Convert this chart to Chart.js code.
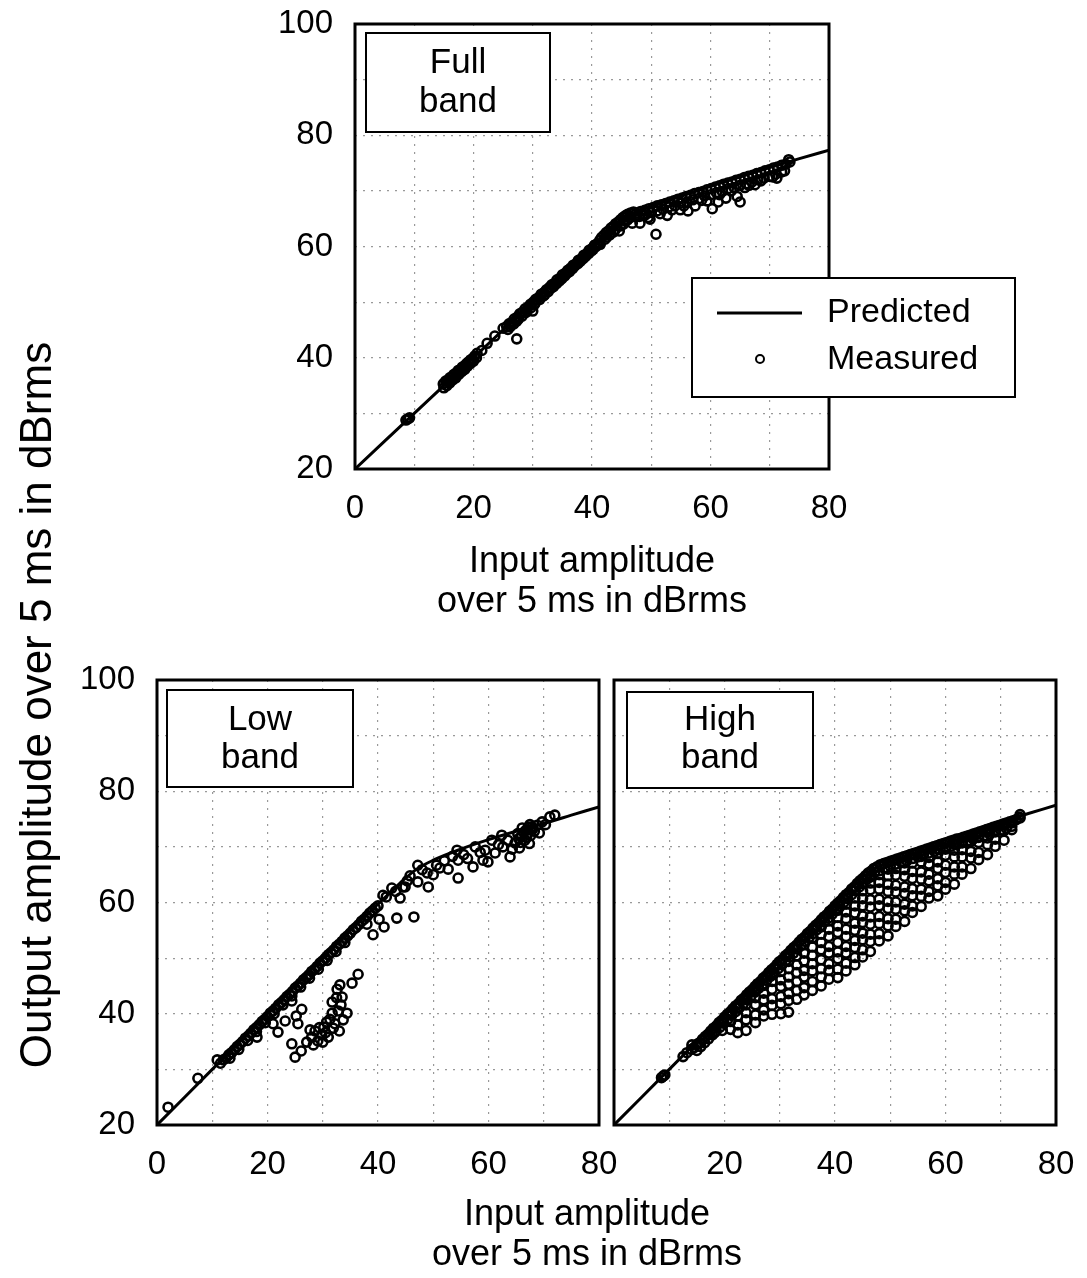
<!DOCTYPE html>
<html>
<head>
<meta charset="utf-8">
<script src="https://cdn.jsdelivr.net/npm/chart.js@4.4.1/dist/chart.umd.min.js"></script>
<style>
  body { margin: 0; background: #fff; width: 1087px; height: 1278px; position: relative; overflow: hidden;
         font-family: "Liberation Sans", Arial, sans-serif; color: #000; }
  canvas { position: absolute; }
  #fullChart { left: 0; top: 0; }
  #lowChart { left: 0; top: 640px; }
  #highChart { left: 600px; top: 640px; }
  #yTitle { position: absolute; left: -364px; top: 680px; width: 800px; height: 50px; line-height: 50px;
            text-align: center; font-size: 44px; transform: rotate(-90deg); white-space: nowrap; }
  #xTitleBottom { position: absolute; left: 287px; top: 1193px; width: 600px; text-align: center;
                  font-size: 36px; line-height: 40px; }
</style>
</head>
<body>
<canvas id="fullChart" width="1087" height="640"></canvas>
<canvas id="lowChart" width="630" height="560"></canvas>
<canvas id="highChart" width="487" height="560"></canvas>
<div id="yTitle">Output amplitude over 5 ms in dBrms</div>
<div id="xTitleBottom">Input amplitude<br>over 5 ms in dBrms</div>
<script>
// axis limits / ticks
const xRange = [0, 80];
const yRange = [20, 100];
const gridStep = 10;
const labelStep = 20;
const xTitle = ["Input amplitude", "over 5 ms in dBrms"];
const seriesNames = ["Predicted", "Measured"];

// predicted input/output curves (x, y)
const fullPredicted = [[0,20],[10,30],[20,40],[30,50],[40,60],[43,63],[45,64.8],[47,66],[50,67.2],[55,69],[60,70.8],[65,72.5],[70,74.2],[75,75.8],[80,77.3]];
const lowPredicted = [[0,20],[10,30],[20,40],[30,50],[35,55],[40,59.7],[44,63.5],[47,66],[50,67.6],[55,69.6],[60,71.3],[65,72.8],[70,74.2],[75,75.7],[80,77.2]];
const highPredicted = [[0,20],[10,30],[20,40],[30,50],[40,60],[44,64],[46,66],[48,67.2],[50,68],[55,69.7],[60,71.3],[65,72.9],[70,74.5],[75,76],[80,77.5]];

// measured points, full band
const fullMeasured = [
  [8.6,28.8],[8.9,29.0],[9.2,29.2],
  [14.9,35.3],[15.3,35.8],[15.6,35.9],[16.0,36.4],[16.3,36.5],[16.7,37.0],[17.0,37.2],[17.4,37.7],[17.7,37.8],[18.1,38.3],
  [18.4,38.5],[18.8,38.9],[19.1,39.2],[19.5,39.6],[19.8,39.8],[20.2,40.3],[20.6,40.8],
  [15.9,35.7],[17.2,36.9],[18.5,38.0],[19.6,39.2],
  [15.0,34.6],[15.5,35.0],[16.0,35.5],[16.5,36.0],[17.0,36.4],[17.5,37.0],[18.0,37.5],[18.5,37.9],[19.0,38.5],[19.5,39.0],
  [20.0,39.4],[20.5,40.0],
  [21.4,41.3],[22.3,42.6],[23.6,43.9],[25.0,45.3],
  [25.6,45.6],[26.0,46.1],[26.5,46.4],[26.9,47.0],[27.4,47.3],[27.8,47.9],[28.3,48.2],[28.7,48.8],[29.2,49.1],[29.6,49.6],
  [30.1,50.0],[30.5,50.5],[31.0,50.8],[31.4,51.4],[31.9,51.7],[32.3,52.2],[32.8,52.6],[33.2,53.1],[33.7,53.4],[34.1,54.0],
  [34.6,54.3],[35.0,54.9],[35.5,55.2],[35.9,55.7],[36.4,56.1],[36.8,56.6],[37.3,56.9],[37.7,57.5],[38.2,57.8],[38.6,58.4],
  [39.1,58.7],[39.5,59.3],[40.0,59.6],[40.4,60.2],[40.9,60.5],[41.3,61.1],
  [26.2,45.6],[27.6,47.0],[29.0,48.4],[30.4,49.8],[31.8,51.1],[33.1,52.5],[34.5,53.8],[35.8,55.2],[37.1,56.5],[38.5,57.8],[39.9,59.2],
  [25.8,45.1],[26.8,46.1],[27.3,46.6],[28.2,47.5],[28.8,48.1],[29.7,49.0],[30.3,49.6],[31.2,50.5],[32.0,51.3],[32.6,51.9],
  [33.5,52.8],[34.0,53.3],[34.9,54.2],[35.4,54.7],[36.2,55.5],[36.7,56.0],[37.6,56.9],[38.0,57.3],[38.9,58.2],[39.4,58.7],
  [40.2,59.5],[40.7,60.0],[41.1,60.4],
  [27.3,43.4],[30.0,48.4],
  [41.6,61.6],[42.0,62.0],[42.4,62.5],[42.8,62.8],[43.2,63.3],[43.6,63.6],[44.0,64.1],[44.4,64.4],[44.8,64.8],[45.2,65.2],
  [45.6,65.5],[46.0,65.8],[46.5,66.0],[47.0,66.2],
  [42.2,61.3],[43.0,62.1],[43.9,63.0],[44.8,63.7],[45.6,64.6],[46.4,65.2],
  [41.4,60.4],[42.5,61.7],[43.6,62.6],[44.6,62.8],[45.3,64.0],[46.0,64.8],[46.8,64.2],[47.4,65.3],[48.1,64.2],[48.6,65.6],
  [47.5,66.0],[48.2,66.3],[48.9,66.5],[49.6,66.8],[50.3,67.0],[51.0,67.3],[51.7,67.5],[52.4,67.7],[53.1,68.0],[53.8,68.2],
  [54.5,68.5],[55.2,68.7],[55.9,69.0],[56.6,69.2],[57.3,69.5],[58.0,69.7],[58.7,69.9],[59.4,70.2],[60.1,70.4],[60.8,70.7],
  [61.5,70.9],[62.2,71.2],[62.9,71.4],[63.6,71.6],[64.3,71.9],[65.0,72.1],[65.7,72.4],[66.4,72.6],[67.1,72.8],[67.8,73.1],
  [68.5,73.3],[69.2,73.6],[69.9,73.8],[70.6,74.1],[71.3,74.3],[72.0,74.6],[72.7,74.8],[73.4,75.2],
  [48.0,65.4],[49.0,65.7],[50.0,66.1],[51.0,66.4],[52.0,66.7],[53.0,67.1],[54.0,67.3],[55.0,67.8],[56.0,68.0],[57.0,68.4],
  [58.0,68.6],[59.0,69.1],[60.0,69.3],[61.0,69.7],[62.0,69.9],[63.0,70.4],[64.0,70.6],[65.0,71.0],[66.0,71.3],[67.0,71.6],
  [68.0,72.0],[69.0,72.3],[70.0,72.6],[71.0,73.0],[72.0,73.4],
  [49.5,65.2],[51.5,65.9],[53.5,66.6],[55.5,67.3],[58.5,68.3],[61.5,69.3],[63.5,70.0],[66.5,71.0],[68.5,71.8],[70.5,72.5],[72.5,73.6],
  [49.8,64.9],[50.8,62.2],[52.7,65.6],[54.9,66.6],[56.2,66.4],[57.4,67.3],[59.4,68.2],[60.3,66.8],[61.3,68.0],[62.6,68.7],
  [64.5,69.0],[65.0,68.0],[65.8,70.6],[67.5,71.1],[71.2,72.3],[73.2,75.6]
];

// measured points, low band
const lowMeasured = [
  [2.0,23.2],[7.4,28.4],[10.9,31.7],
  [11.5,31.1],[12.0,31.7],[12.5,32.0],[13.0,32.6],[13.5,33.0],[14.0,33.5],[14.5,34.1],[15.0,34.5],[15.5,35.0],[16.0,35.6],
  [16.5,36.0],[17.0,36.5],[17.5,37.1],[18.0,37.5],[18.5,38.0],[19.0,38.6],[19.5,39.0],[20.0,39.5],[20.5,40.1],[21.0,40.5],
  [21.5,41.0],[22.0,41.6],[22.5,42.0],[23.0,42.5],[23.5,43.1],[24.0,43.5],[24.5,44.0],[25.0,44.6],[25.5,45.0],[26.0,45.5],
  [26.5,46.1],[27.0,46.5],[27.5,47.0],[28.0,47.6],[28.5,48.0],[29.0,48.5],[29.5,49.1],[30.0,49.5],[30.5,50.0],[31.0,50.6],
  [31.5,51.0],[32.0,51.5],[32.5,52.1],[33.0,52.5],[33.5,53.0],[34.0,53.6],[34.5,54.0],[35.0,54.5],[35.5,55.1],[36.0,55.5],
  [36.5,56.0],[37.0,56.6],[37.5,57.0],[38.0,57.5],[38.5,58.1],[39.0,58.5],
  [13.2,32.0],[14.8,33.6],[16.4,35.2],[18.0,36.8],[19.6,38.4],[21.2,40.0],[22.8,41.6],[24.4,43.2],[26.0,44.8],[27.6,46.4],
  [29.2,48.0],[30.8,49.6],[32.4,51.2],[34.0,52.8],
  [18.1,35.8],[21.0,38.2],[21.9,36.7],[23.2,38.7],[24.4,42.3],[25.2,39.6],[25.5,38.2],[26.2,40.8],[24.4,34.6],[25.0,32.2],
  [26.1,33.3],[27.1,34.9],[27.7,37.1],[28.6,36.9],[29.1,35.1],[29.8,36.2],[30.2,37.6],[30.7,38.5],[31.0,35.8],[31.7,40.1],
  [31.9,37.4],[31.7,42.1],[32.6,44.4],[33.1,45.2],[33.5,43.0],[33.3,41.6],[33.7,38.9],[34.4,40.1],[35.3,45.5],[36.4,47.1],
  [28.0,35.8],[29.4,37.5],[30.5,36.6],[31.3,39.0],[32.2,38.2],[32.8,40.5],[33.0,36.9],[30.0,34.9],[28.3,34.4],[32.5,42.9],
  [39.1,54.2],[40.2,57.0],[41.1,55.6],[43.4,57.2],[46.5,57.4],[38.0,56.1],
  [39.5,59.0],[40.0,59.4],[40.9,61.3],[41.5,61.0],[42.5,62.6],[43.2,62.0],[44.0,60.8],[44.5,62.8],[44.9,62.8],[45.3,63.9],[45.8,64.8],
  [47.2,63.7],[47.2,66.7],[48.0,65.9],[48.9,65.3],[49.1,62.8],[50.0,65.0],[50.6,66.7],[51.2,66.2],[52.0,67.5],[52.7,66.0],
  [53.5,68.3],[54.3,69.4],[54.5,64.4],[54.5,67.6],[55.5,68.6],[56.2,67.9],[57.2,66.4],[57.6,70.0],[58.5,69.0],[59.0,67.6],
  [59.4,69.4],[59.9,67.3],[60.6,71.2],[61.2,68.9],[61.8,70.4],[62.4,72.1],[62.6,70.0],[63.5,71.2],[63.9,68.2],[64.3,69.6],
  [64.8,70.7],[65.3,72.4],[65.6,69.8],[66.1,73.4],[66.6,71.2],[67.0,72.3],[67.4,70.6],[67.9,73.6],[68.3,72.8],[68.8,73.9],
  [69.2,72.5],[69.7,74.5],[70.3,74.0],[71.1,75.4],[72.0,75.7],
  [65.5,71.5],[66.0,72.0],[66.4,72.6],[66.8,73.0],[67.2,73.5],[67.6,72.0],[68.0,73.2],[65.8,70.8],[66.9,71.7],[67.5,74.0]
];

// measured points, high band: points along the predicted curve
const highMeasuredEdge = [
  [8.6,28.5],[8.9,28.8],[9.2,29.0],[12.5,32.3],[13.2,33.0],[14.1,34.4],
  [14.0,33.6],[14.5,33.9],[15.0,34.5],[15.5,34.8],[16.0,35.4],[16.5,35.9],[17.0,36.3],[17.5,36.9],[18.0,37.4],[18.5,37.8],
  [19.0,38.4],[19.5,38.8],[20.0,39.4],[20.5,39.9],[21.0,40.3],[21.5,40.9],[22.0,41.4],[22.5,41.8],[23.0,42.4],[23.5,42.8],
  [24.0,43.4],[24.5,43.9],[25.0,44.3],[25.5,44.9],[26.0,45.4],[26.5,45.8],[27.0,46.4],[27.5,46.8],[28.0,47.4],[28.5,47.9],
  [29.0,48.3],[29.5,48.9],[30.0,49.4],[30.5,49.8],[31.0,50.4],[31.5,50.8],[32.0,51.4],[32.5,51.9],[33.0,52.3],[33.5,52.9],
  [34.0,53.4],[34.5,53.8],[35.0,54.4],[35.5,54.8],[36.0,55.4],[36.5,55.9],[37.0,56.3],[37.5,56.9],[38.0,57.4],[38.5,57.8],
  [39.0,58.4],[39.5,58.8],[40.0,59.4],[40.5,59.9],[41.0,60.3],[41.5,60.9],[42.0,61.4],[42.5,61.8],[43.0,62.4],[43.5,62.8],
  [44.0,63.4],[44.5,63.9],[45.0,64.3],[45.5,64.8],[46.0,65.3],[46.5,65.6],
  [15.0,33.4],[15.7,34.1],[16.4,34.8],[17.1,35.5],[17.8,36.2],[18.5,36.9],[19.2,37.6],[19.9,38.3],[20.6,39.0],[21.3,39.7],
  [22.0,40.4],[22.7,41.1],[23.4,41.8],[24.1,42.5],[24.8,43.2],[25.5,43.9],[26.2,44.6],[26.9,45.3],[27.6,46.0],[28.3,46.7],
  [29.0,47.4],[29.7,48.1],[30.4,48.8],[31.1,49.5],[31.8,50.2],[32.5,50.9],[33.2,51.6],[33.9,52.3],[34.6,53.0],[35.3,53.7],
  [36.0,54.4],[36.7,55.1],[37.4,55.8],[38.1,56.5],[38.8,57.2],[39.5,57.9],[40.2,58.6],[40.9,59.3],[41.6,60.0],[42.3,60.7],
  [43.0,61.4],[43.7,62.1],[44.4,62.8],[45.1,63.5],[45.8,64.2],[46.5,64.8],[47.2,65.4],
  [47.0,66.1],[47.6,66.4],[48.2,66.8],[48.8,67.0],[49.4,67.2],[50.0,67.4],[50.6,67.6],[51.2,67.8],[51.8,68.0],[52.4,68.2],
  [53.0,68.4],[53.6,68.6],[54.2,68.8],[54.8,69.0],[55.4,69.2],[56.0,69.4],[56.6,69.6],[57.2,69.8],[57.8,70.0],[58.4,70.2],
  [59.0,70.4],[59.6,70.6],[60.2,70.8],[60.8,71.0],[61.4,71.2],[62.0,71.4],[62.6,71.5],[63.2,71.7],[63.8,71.9],[64.4,72.1],
  [65.0,72.3],[65.6,72.5],[66.2,72.7],[66.8,72.9],[67.4,73.1],[68.0,73.3],[68.6,73.5],[69.2,73.7],[69.8,73.9],[70.4,74.1],
  [71.0,74.3],[71.6,74.5],[72.2,74.7],[72.8,74.9],[73.4,75.3],
  [48.0,65.7],[49.0,66.1],[50.0,66.5],[51.0,66.9],[52.0,67.2],[53.0,67.5],[54.0,67.9],[55.0,68.2],[56.0,68.5],[57.0,68.9],
  [58.0,69.2],[59.0,69.5],[60.0,69.8],[61.0,70.1],[62.0,70.4],[63.0,70.7],[64.0,71.0],[65.0,71.4],[66.0,71.7],[67.0,72.0],
  [68.0,72.3],[69.0,72.7],[70.0,73.0],[71.0,73.3],[72.0,73.7]
];

// measured points, high band: the spread below the curve, as [x, [y values]]
const highMeasuredSpread = [
  [18.2,[36.6]],
  [19.6,[37.0,38.4]],
  [21.1,[37.2,38.6,39.9]],
  [22.4,[36.6,38.0,39.6,41.0]],
  [23.9,[37.0,38.9,40.2,41.6,42.8]],
  [25.6,[38.4,39.8,41.6,42.9,44.2]],
  [27.1,[39.6,40.7,42.5,43.7,45.1]],
  [28.6,[39.9,41.5,42.7,44.4,45.8,47.0]],
  [30.2,[40.0,41.8,43.1,44.9,46.1,47.6]],
  [31.6,[40.3,42.4,43.6,45.3,46.6,48.1,49.4]],
  [33.1,[42.6,44.2,45.8,47.4,48.8,50.4]],
  [34.4,[43.4,44.7,46.6,47.8,49.5,50.9,52.4]],
  [35.9,[44.2,45.8,47.7,49.0,50.5,52.0,53.6]],
  [37.5,[45.0,46.6,48.1,49.7,51.5,52.8,54.3,55.6]],
  [38.9,[46.2,47.8,49.0,50.9,52.1,53.9,55.2,56.7]],
  [40.5,[46.5,48.0,49.9,51.1,52.8,54.6,55.8,57.3,58.6]],
  [42.0,[47.7,49.1,50.9,52.1,53.9,55.2,57.1,58.3,59.7]],
  [43.6,[48.8,50.1,51.9,53.2,55.0,56.3,58.1,59.4,60.8]],
  [45.0,[50.2,51.5,53.3,54.5,56.4,57.6,59.4,60.7,62.1,63.4]],
  [46.4,[51.2,53.0,54.3,56.1,57.4,59.2,60.5,62.3,63.5,64.6]],
  [48.0,[53.1,54.4,56.2,57.5,59.4,60.6,62.4,63.6,65.0]],
  [49.6,[54.0,55.8,57.1,58.9,60.2,62.0,63.3,64.8,66.0]],
  [51.0,[55.7,57.0,58.8,60.1,61.9,63.1,64.9,66.1]],
  [52.6,[56.6,58.5,59.7,61.6,62.8,64.7,65.9,67.1]],
  [54.0,[58.2,59.4,61.2,62.5,64.3,65.6,67.1]],
  [55.6,[59.3,61.1,62.4,64.2,65.5,67.3,68.3]],
  [57.0,[60.8,62.0,63.9,65.1,66.9,68.1]],
  [58.6,[61.2,63.0,64.3,66.1,67.3,68.8,69.6]],
  [60.0,[62.4,63.6,65.4,66.7,68.5,69.6]],
  [61.6,[63.3,65.1,66.4,68.2,69.4,70.5]],
  [63.0,[65.1,66.4,68.2,69.5,70.8]],
  [64.6,[66.1,68.0,69.2,71.0,71.8]],
  [66.0,[67.7,69.0,70.8,71.9]],
  [67.6,[68.6,70.4,71.6,72.7]],
  [69.0,[70.1,71.4,72.9]],
  [70.6,[71.2,72.9,73.9]],
  [72.0,[73.1,74.3]],
  [73.5,[75.2,75.8]]
];

const highMeasured = highMeasuredEdge.concat(
  highMeasuredSpread.flatMap(([x, ys]) => ys.map(y => [x, y]))
);

const FONT = "Liberation Sans";
const toXY = pts => pts.map(([x, y]) => ({ x, y }));

const framePlugin = {
  id: "frame",
  afterDatasetsDraw(chart) {
    const { ctx, chartArea: a } = chart;
    ctx.save();
    ctx.strokeStyle = "#000";
    ctx.lineWidth = 3;
    ctx.strokeRect(a.left, a.top, a.right - a.left, a.bottom - a.top);
    ctx.restore();
  }
};

const bandBoxPlugin = {
  id: "bandBox",
  afterDraw(chart, args, opts) {
    if (!opts.lines) return;
    const ctx = chart.ctx;
    const [x1, y1, x2, y2] = opts.rect;
    ctx.save();
    ctx.fillStyle = "#fff";
    ctx.fillRect(x1, y1, x2 - x1, y2 - y1);
    ctx.strokeStyle = "#000";
    ctx.lineWidth = 2;
    ctx.strokeRect(x1, y1, x2 - x1, y2 - y1);
    ctx.fillStyle = "#000";
    ctx.font = "35px '" + FONT + "'";
    ctx.textAlign = "center";
    ctx.textBaseline = "middle";
    opts.lines.forEach((t, i) => ctx.fillText(t, (x1 + x2) / 2, opts.lineY[i]));
    ctx.restore();
  }
};

const keyPlugin = {
  id: "keyBox",
  afterDraw(chart, args, opts) {
    if (!opts.rect) return;
    const ctx = chart.ctx;
    const [x1, y1, x2, y2] = opts.rect;
    const names = chart.data.datasets.map(d => d.label);
    ctx.save();
    ctx.fillStyle = "#fff";
    ctx.fillRect(x1, y1, x2 - x1, y2 - y1);
    ctx.strokeStyle = "#000";
    ctx.lineWidth = 2;
    ctx.strokeRect(x1, y1, x2 - x1, y2 - y1);
    ctx.lineWidth = 3;
    ctx.beginPath();
    ctx.moveTo(x1 + 25, y1 + 35);
    ctx.lineTo(x1 + 110, y1 + 35);
    ctx.stroke();
    ctx.lineWidth = 2;
    ctx.beginPath();
    ctx.arc(x1 + 68, y1 + 81, 4, 0, Math.PI * 2);
    ctx.stroke();
    ctx.fillStyle = "#000";
    ctx.font = "34px '" + FONT + "'";
    ctx.textBaseline = "middle";
    ctx.fillText(names[0], x1 + 135, y1 + 35);
    ctx.fillText(names[1], x1 + 135, y1 + 82);
    ctx.restore();
  }
};

function makePanel(id, predicted, measured, cfg) {
  const tickFont = { family: FONT, size: 33 };
  // tick marks are invisible; their length only spaces the labels from the frame
  const gridStyle = len => ({ color: "#999", lineWidth: 1.2, drawTicks: true, tickLength: len, tickColor: "rgba(0,0,0,0)" });
  return new Chart(document.getElementById(id), {
    type: "scatter",
    data: {
      datasets: [
        {
          label: seriesNames[0],
          data: toXY(predicted),
          showLine: true,
          borderColor: "#000",
          borderWidth: 3,
          pointRadius: 0,
          cubicInterpolationMode: "monotone",
          order: 0
        },
        {
          label: seriesNames[1],
          data: toXY(measured),
          showLine: false,
          pointRadius: 4.5,
          pointBorderWidth: 2.6,
          pointBorderColor: "#000",
          pointBackgroundColor: "rgba(0,0,0,0)",
          order: 1
        }
      ]
    },
    options: {
      responsive: false,
      animation: false,
      events: [],
      layout: { padding: cfg.padding },
      plugins: {
        legend: { display: false },
        tooltip: { enabled: false },
        bandBox: cfg.box,
        keyBox: cfg.key || {}
      },
      scales: {
        x: {
          type: "linear",
          min: xRange[0],
          max: xRange[1],
          border: { display: false, dash: [2, 6] },
          grid: gridStyle(20),
          ticks: {
            stepSize: gridStep,
            autoSkip: false,
            maxRotation: 0,
            padding: 0,
            color: "#000",
            font: tickFont,
            callback: v => (v % labelStep === 0 && !(cfg.hideZero && v === 0)) ? v : ""
          },
          title: {
            display: !!cfg.xTitle,
            text: cfg.xTitle || "",
            color: "#000",
            font: { family: FONT, size: 36, lineHeight: 40 / 36 },
            padding: { top: 0, bottom: 18 }
          },
          afterFit: s => { s.height = cfg.xHeight; }
        },
        y: {
          type: "linear",
          min: yRange[0],
          max: yRange[1],
          border: { display: false, dash: [2, 6] },
          grid: gridStyle(22),
          ticks: {
            display: cfg.yTicks,
            stepSize: gridStep,
            autoSkip: false,
            padding: 0,
            color: "#000",
            font: tickFont,
            callback: v => v % labelStep === 0 ? v : ""
          },
          afterFit: s => { s.width = cfg.yWidth; }
        }
      }
    },
    plugins: [framePlugin, bandBoxPlugin, keyPlugin]
  });
}

makePanel("fullChart", fullPredicted, fullMeasured, {
  padding: { left: 255, right: 258, top: 24, bottom: 0 },
  yWidth: 100, xHeight: 171, yTicks: true, xTitle: xTitle,
  box: { rect: [366, 33, 550, 132], lines: ["Full", "band"], lineY: [63, 102] },
  key: { rect: [692, 278, 1015, 397] }
});

makePanel("lowChart", lowPredicted, lowMeasured, {
  padding: { left: 0, right: 31, top: 40, bottom: 0 },
  yWidth: 157, xHeight: 75, yTicks: true,
  box: { rect: [167, 50, 353, 147], lines: ["Low", "band"], lineY: [80, 118] }
});

makePanel("highChart", highPredicted, highMeasured, {
  padding: { left: 0, right: 31, top: 40, bottom: 0 },
  yWidth: 14, xHeight: 75, yTicks: false, hideZero: true,
  box: { rect: [27, 52, 213, 148], lines: ["High", "band"], lineY: [80, 118] }
});
</script>
</body>
</html>
